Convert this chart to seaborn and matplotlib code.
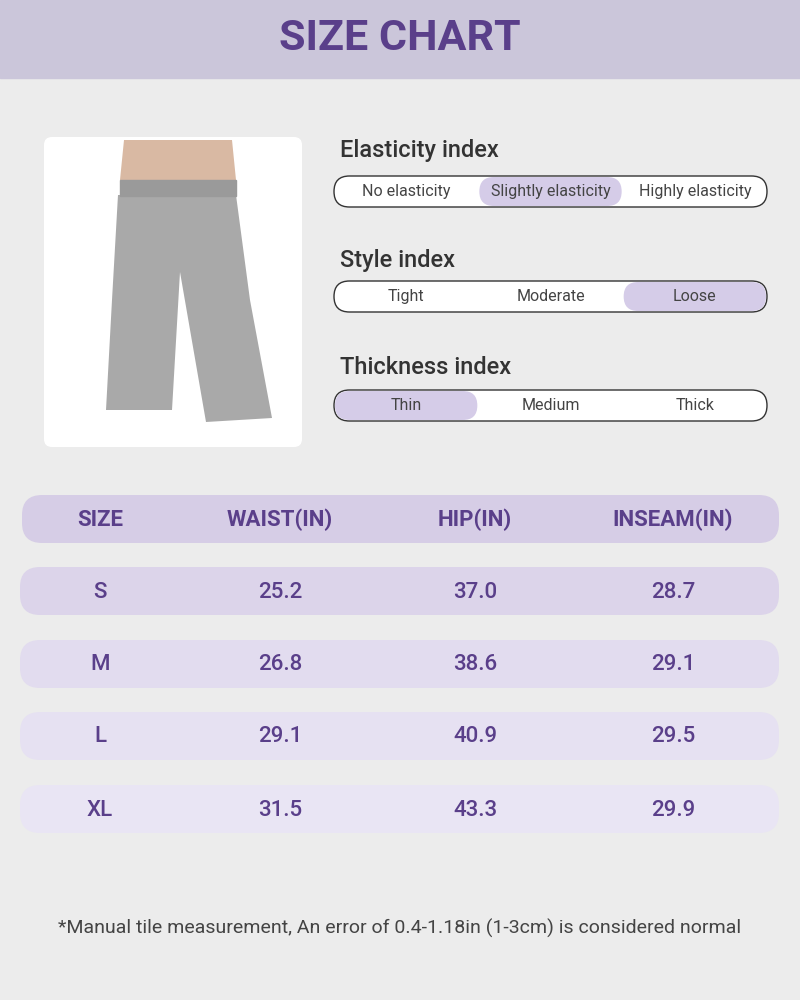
import matplotlib
matplotlib.use("Agg")
import matplotlib.pyplot as plt
import seaborn as sns
from matplotlib.patches import FancyBboxPatch, Rectangle, Polygon

sizes = ["S", "M", "L", "XL"]
waist = ["25.2", "26.8", "29.1", "31.5"]
hip = ["37.0", "38.6", "40.9", "43.3"]
inseam = ["28.7", "29.1", "29.5", "29.9"]
headers = ["SIZE", "WAIST(IN)", "HIP(IN)", "INSEAM(IN)"]

index_titles = ["Elasticity index", "Style index", "Thickness index"]
index_options = [["No elasticity", "Slightly elasticity", "Highly elasticity"],
                 ["Tight", "Moderate", "Loose"],
                 ["Thin", "Medium", "Thick"]]
index_selected = [1, 2, 0]
footnote = "*Manual tile measurement, An error of 0.4-1.18in (1-3cm) is considered normal"

sns.set_theme(style="white")
plt.rcParams['font.family'] = ['Roboto', 'DejaVu Sans']

PURPLE = "#5a3f8a"
fig = plt.figure(figsize=(8, 10), dpi=100)
fig.patch.set_facecolor("#ececec")
ax = fig.add_axes([0, 0, 1, 1])
ax.set_xlim(0, 800); ax.set_ylim(1000, 0); ax.axis("off")

ax.add_patch(Rectangle((0, 0), 800, 78, color="#cbc6da"))
ax.text(400, 38, "SIZE CHART", ha="center", va="center", fontsize=31,
        fontweight="bold", color=PURPLE)

# product picture placeholder
ax.add_patch(FancyBboxPatch((44, 137), 258, 310, boxstyle="round,pad=0,rounding_size=8",
                            fc="white", ec="none"))
ax.add_patch(Polygon([(124, 140), (232, 140), (236, 180), (120, 180)], fc="#d9b9a3", ec="none"))
ax.add_patch(Polygon([(118, 195), (236, 195), (250, 300), (272, 418), (206, 422),
                      (180, 272), (172, 410), (106, 410), (112, 300)],
                     closed=True, fc="#a9a9a9", ec="none"))
ax.add_patch(Rectangle((120, 180), 116, 16, color="#9a9a9a"))

tops = [176, 281, 390]
titles_y = [151, 261, 368]
x0, x1 = 334, 767
for t, ty, top, opts, sel in zip(index_titles, titles_y, tops, index_options, index_selected):
    ax.text(340, ty, t, ha="left", va="center", fontsize=17, color="#333333", fontweight="medium")
    ax.add_patch(FancyBboxPatch((x0, top), x1 - x0, 31, boxstyle="round,pad=0,rounding_size=15.5",
                                fc="white", ec="#333333", lw=1))
    w = (x1 - x0) / 3
    sx = x0 + sel * w
    ax.add_patch(FancyBboxPatch((sx + 1, top + 1), w - 2, 29, boxstyle="round,pad=0,rounding_size=14.5",
                                fc="#d5cce8", ec="none"))
    for i, o in enumerate(opts):
        ax.text(x0 + (i + 0.5) * w, top + 15.5, o, ha="center", va="center",
                fontsize=11.5, color="#444444")

cols_x = [100, 280, 475, 673]
row_colors = ["#d6cde6", "#dcd4ea", "#e2dcef", "#e6e1f2", "#e9e5f4"]
row_tops = [495, 567, 640, 712, 785]
rows = [headers] + [list(r) for r in zip(sizes, waist, hip, inseam)]
for i, (r, top, c) in enumerate(zip(rows, row_tops, row_colors)):
    left = 22 if i == 0 else 20
    ax.add_patch(FancyBboxPatch((left, top), 781 - left - 2, 48,
                                boxstyle="round,pad=0,rounding_size=20", fc=c, ec="none"))
    for x, v in zip(cols_x, r):
        ax.text(x, top + 25, v, ha="center", va="center", fontsize=16,
                fontweight="bold" if i == 0 else "medium", color=PURPLE)

ax.text(400, 928, footnote, ha="center", va="center", fontsize=14, color="#444444")
fig.savefig("out.png", dpi=100, facecolor=fig.get_facecolor())
